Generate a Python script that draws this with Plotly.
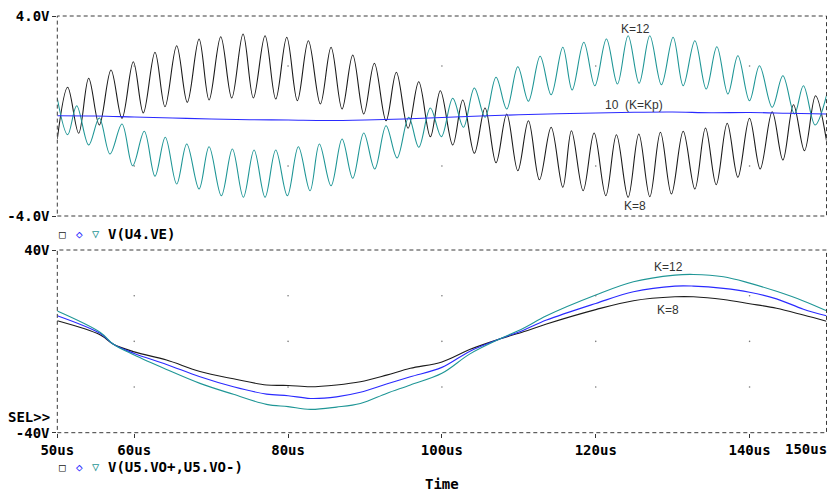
import plotly.graph_objects as go

W, H = 829, 491

# ---------------- top panel: V(U4.VE), extrema ----------------
k8_top_t = [50.0, 51.35, 52.78, 54.08, 55.46, 56.98, 58.41, 59.88, 61.18, 62.70, 64.00,
            65.52, 66.90, 68.43, 69.73, 71.25, 72.68, 74.15, 75.49, 77.01, 78.40, 79.83,
            81.21, 82.64, 84.20, 85.59, 87.02, 88.41, 89.84, 91.22, 92.74, 94.08, 95.60,
            96.99, 98.50, 99.80, 101.41, 102.71, 104.22, 105.61, 107.04, 108.43, 109.87,
            111.25, 112.68, 114.20, 115.72, 116.84, 118.36, 119.79, 121.31, 122.69, 124.21,
            125.60, 127.03, 128.41, 129.84, 131.37, 132.89, 134.27, 135.66, 137.09, 138.48,
            139.99, 141.38, 142.94, 144.33, 145.71, 147.14, 148.57, 150.0]
k8_top_v = [-0.92, 1.15, -0.69, 1.51, -0.36, 1.84, -0.09, 2.17, 0.12, 2.55, 0.37,
            2.81, 0.55, 3.08, 0.64, 3.17, 0.72, 3.28, 0.72, 3.21, 0.68, 3.15,
            0.61, 3.01, 0.48, 2.75, 0.28, 2.44, 0.08, 2.11, -0.19, 1.75, -0.49,
            1.37, -0.83, 1.01, -1.16, 0.64, -1.49, 0.32, -1.87, 0.08, -2.19,
            -0.19, -2.55, -0.45, -2.85, -0.59, -2.99, -0.68, -3.19, -0.75, -3.25,
            -0.72, -3.23, -0.65, -3.12, -0.61, -2.92, -0.48, -2.75, -0.29, -2.45,
            -0.09, -2.12, 0.17, -1.76, 0.45, -1.39, 0.81, -0.99]

k12_top_t = [50.0, 51.35, 52.52, 54.08, 55.46, 56.85, 58.41, 59.80, 61.31, 62.70, 64.04,
             65.52, 66.83, 68.43, 69.73, 71.33, 72.76, 74.19, 75.58, 77.01, 78.40, 79.91,
             81.34, 82.86, 84.07, 85.59, 87.02, 88.41, 89.84, 91.27, 92.74, 94.17, 95.69,
             96.99, 98.50, 99.93, 101.41, 102.80, 104.22, 105.61, 107.04, 108.43, 109.87,
             111.25, 112.77, 114.20, 115.72, 116.93, 118.45, 119.88, 121.39, 122.82, 124.21,
             125.64, 127.03, 128.54, 130.06, 131.37, 132.89, 134.36, 135.75, 137.18, 138.48,
             139.99, 141.29, 142.94, 144.33, 145.84, 147.00, 148.52, 150.0]
k12_top_v = [0.70, -0.75, 0.41, -1.16, -0.08, -1.52, -0.32, -1.99, -0.61, -2.41, -0.85,
             -2.72, -1.12, -2.92, -1.23, -3.19, -1.32, -3.25, -1.36, -3.25, -1.36, -3.19,
             -1.23, -2.99, -1.12, -2.79, -0.92, -2.49, -0.68, -2.12, -0.39, -1.68, -0.05,
             -1.25, 0.32, -0.83, 0.71, -0.45, 1.12, -0.05, 1.55, 0.28, 1.97,
             0.59, 2.39, 0.85, 2.75, 1.04, 2.95, 1.21, 3.08, 1.28, 3.21,
             1.31, 3.21, 1.25, 3.15, 1.21, 3.01, 1.08, 2.77, 0.88, 2.41,
             0.61, 2.01, 0.35, 1.61, 0.08, 1.21, -0.36, 0.81]

kp_top_t = [50, 55, 60, 65, 70, 75, 80, 85, 90, 95, 100, 105, 110, 115, 120, 125, 130,
            135, 140, 145, 150]
kp_top_v = [0.01, 0.00, -0.04, -0.08, -0.12, -0.15, -0.16, -0.18, -0.16, -0.12, -0.06,
            0.00, 0.05, 0.09, 0.12, 0.15, 0.16, 0.13, 0.14, 0.11, 0.08]

# ---------------- bottom panel: V(U5.VO+,U5.VO-) ----------------
bot_t = [50, 55.6, 57.3, 60, 64.2, 68.55, 72.9, 77.2, 80, 82.9, 86.3, 89.4, 92.8, 95.9,
         100, 103.6, 107.5, 110.6, 113.6, 120, 124.9, 130.3, 132.7, 136.6, 140, 143.5,
         147, 150]
k8_bot_v = [9.0, 2.8, -1.3, -4.6, -8.2, -13.2, -16.4, -19.1, -19.3, -19.9, -19.1, -17.7,
            -14.8, -11.8, -9.0, -3.6, 1.0, 4.2, 7.6, 13.9, 17.8, 19.5, 19.5, 18.3, 16.5,
            14.5, 11.5, 8.8]
kp_bot_v = [11.2, 3.4, -1.3, -5.3, -10.1, -15.5, -19.9, -23.1, -23.8, -25.0, -24.3, -22.3,
            -18.7, -15.5, -11.4, -4.4, 1.0, 4.9, 9.3, 16.6, 21.7, 24.2, 24.2, 23.2, 21.5,
            18.6, 14.1, 11.2]
k12_bot_v = [13.3, 3.9, -1.3, -6.0, -12.3, -18.4, -23.2, -27.6, -28.6, -29.8, -28.8, -27.2,
             -22.8, -19.1, -14.0, -5.6, 1.0, 5.7, 11.2, 20.3, 26.1, 29.0, 29.3, 28.3, 25.5,
             21.9, 17.7, 13.4]

# axis ticks / grid
x_ticks = [50, 60, 80, 100, 120, 140]
x_ticktext = ["50us", "60us", "80us", "100us", "120us", "140us"]
x_grid = [60, 80, 100, 120, 140]
top_grid_y = [-2, 2]
bot_grid_y = [-20, 0, 20]

C_K8 = "#1c1c1c"
C_KP = "#2a2aff"
C_K12 = "#1f9696"
MONO = "DejaVu Sans Mono"

def py(p):
    return 1 - p / H

def px(p):
    return p / W

fig = go.Figure()

def add_trace(t, v, color, xa, ya, shape="spline"):
    fig.add_trace(go.Scatter(x=t, y=v, mode="lines", xaxis=xa, yaxis=ya,
                             line=dict(color=color, width=1.1, shape=shape, smoothing=1.0),
                             hoverinfo="skip", showlegend=False))

add_trace(k8_top_t, k8_top_v, C_K8, "x", "y")
add_trace(k12_top_t, k12_top_v, C_K12, "x", "y")
add_trace(kp_top_t, kp_top_v, C_KP, "x", "y")

add_trace(bot_t, k8_bot_v, C_K8, "x2", "y2")
add_trace(bot_t, kp_bot_v, C_KP, "x2", "y2")
add_trace(bot_t, k12_bot_v, C_K12, "x2", "y2")

# grid dots
gx1 = [gx for gx in x_grid for gy in top_grid_y]
gy1 = [gy for gx in x_grid for gy in top_grid_y]
gx2 = [gx for gx in x_grid for gy in bot_grid_y]
gy2 = [gy for gx in x_grid for gy in bot_grid_y]
fig.add_trace(go.Scatter(x=gx1, y=gy1, mode="markers", xaxis="x", yaxis="y",
                         marker=dict(size=1.6, color="#777777"), hoverinfo="skip", showlegend=False))
fig.add_trace(go.Scatter(x=gx2, y=gy2, mode="markers", xaxis="x2", yaxis="y2",
                         marker=dict(size=1.6, color="#777777"), hoverinfo="skip", showlegend=False))

xdom = [57.3 / W, 826.5 / W]
tickfont = dict(family=MONO, size=14, color="black", weight="bold")

fig.update_layout(
    width=W, height=H, margin=dict(l=0, r=0, t=0, b=0, autoexpand=False),
    paper_bgcolor="white", plot_bgcolor="white",
    xaxis=dict(domain=xdom, range=[50, 150], showgrid=False, zeroline=False, automargin=False,
               showticklabels=False, ticks="", anchor="y"),
    yaxis=dict(domain=[py(216), py(16)], range=[-4, 4], showgrid=False, zeroline=False,
               automargin=False,
               tickvals=[-4, 4], ticktext=["-4.0V", "4.0V"], ticks="outside", ticklen=4,
               tickcolor="#333", tickfont=tickfont, anchor="x"),
    xaxis2=dict(domain=xdom, range=[50, 150], showgrid=False, zeroline=False, automargin=False,
                tickvals=x_ticks, ticktext=x_ticktext, ticks="outside", ticklen=4,
                tickcolor="#333", tickfont=tickfont, anchor="y2"),
    yaxis2=dict(domain=[py(432.7), py(250)], range=[-40, 40], showgrid=False, zeroline=False,
                automargin=False,
                tickvals=[-40, 40], ticktext=["-40V", "40V"], ticks="outside", ticklen=4,
                tickcolor="#333", tickfont=tickfont, anchor="x2"),
)

# dashed frames
for xr, yr in (("x domain", "y domain"), ("x2 domain", "y2 domain")):
    fig.add_shape(type="rect", xref=xr, yref=yr, x0=0, x1=1, y0=0, y1=1,
                  line=dict(color="#3a3a3a", width=1, dash="4px,3px"), layer="above")

ann = []
def text(x, y, s, color="black", size=14, font=MONO, weight="bold", xanchor="left", xref="paper", yref="paper"):
    ann.append(dict(x=x, y=y, xref=xref, yref=yref, text=s, showarrow=False,
                    xanchor=xanchor, yanchor="middle",
                    font=dict(family=font, size=size, color=color, weight=weight)))

# last x tick label, right-aligned at the edge
ann.append(dict(x=150, y=0, xref="x2", yref="y2 domain", text="150us", showarrow=False,
                xanchor="right", yanchor="top", yshift=-6, xshift=2,
                font=dict(family=MONO, size=14, color="black", weight="bold")))

# legend-like rows
for ypix, label in ((234, "V(U4.VE)"), (467, "V(U5.VO+,U5.VO-)")):
    text(px(62), py(ypix), "□", color="#222", size=11, xanchor="center", weight="normal")
    text(px(79), py(ypix), "◇", color=C_KP, size=11, xanchor="center", weight="normal")
    text(px(96), py(ypix), "▽", color=C_K12, size=12, xanchor="center", weight="normal")
    text(px(106), py(ypix), label)

text(px(442), py(484), "Time", xanchor="center")
text(px(52), py(417), "SEL>>", xanchor="right")

SANS = "Liberation Sans"
text(px(635), py(29), "K=12", color="#333", size=12, font=SANS, weight="normal", xanchor="center")
text(px(603), py(105), "10  (K=Kp)", color="#333", size=12, font=SANS, weight="normal")
text(px(635), py(206), "K=8", color="#333", size=12, font=SANS, weight="normal", xanchor="center")
text(px(668), py(267), "K=12", color="#333", size=12, font=SANS, weight="normal", xanchor="center")
text(px(668), py(310), "K=8", color="#333", size=12, font=SANS, weight="normal", xanchor="center")

fig.update_layout(annotations=ann)

fig.write_html("out.html", config={"displayModeBar": False},
               post_script="document.body.style.margin='0';document.body.style.overflow='hidden';")
